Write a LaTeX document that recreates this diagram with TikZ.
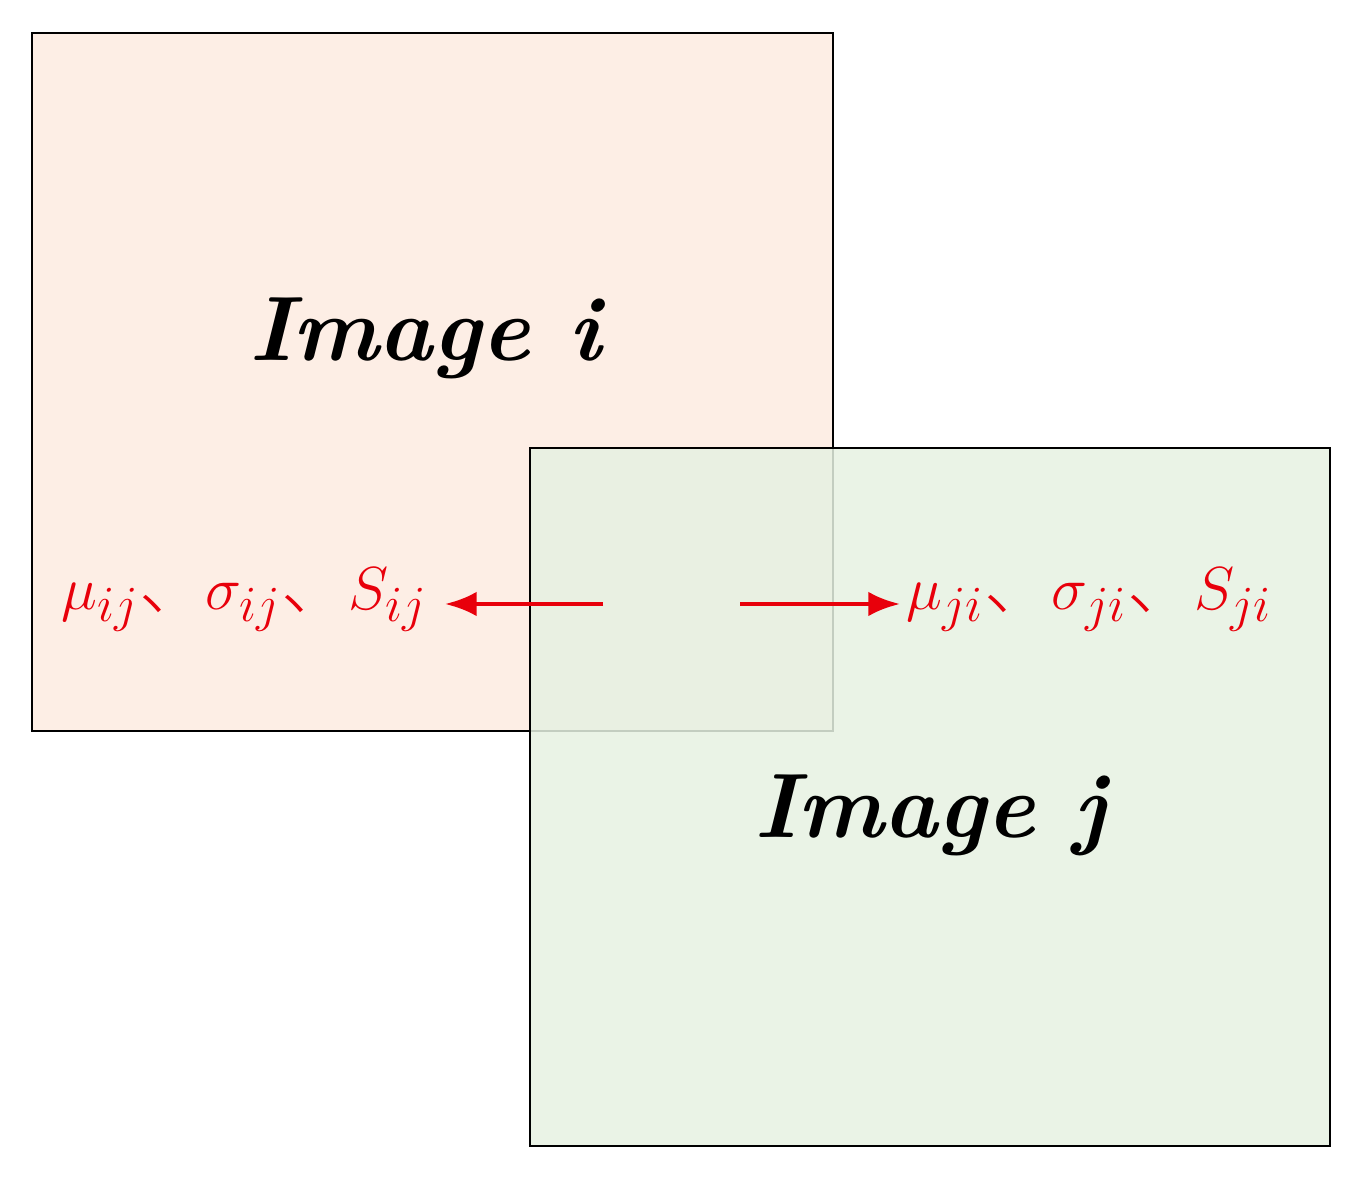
\documentclass[tikz,border=0pt]{standalone}
\usepackage{fontspec}
\newfontfamily\cjk{Noto Sans CJK SC Light}
\usetikzlibrary{arrows.meta}
\definecolor{pinkfill}{HTML}{FDEEE5}
\definecolor{greenfill}{HTML}{E6F1E2}
\definecolor{lblred}{HTML}{E8000B}
\tikzset{
 box/.style={draw=black, line width=0.75pt},
 title/.style={font=\fontsize{26}{30}\selectfont\bfseries\itshape},
 lbl/.style={text=lblred, font=\fontsize{19}{22}\selectfont, inner sep=0pt},
 arr/.style={draw=lblred, line width=1.3pt, -{Latex[length=9pt,width=7pt]}}
}
\begin{document}
\begin{tikzpicture}[x=0.01cm,y=-0.01cm]
\useasboundingbox (0,0) rectangle (1354,1180);
\fill[pinkfill] (32,33) rectangle (833,731);
\draw[box] (32,33) rectangle (833,731);
\fill[greenfill, opacity=0.85] (530,448) rectangle (1330,1146);
\draw[box] (530,448) rectangle (1330,1146);
\node[title] (ti) at (425,338) {Image i};
\node[title] (tj) at (930,815) {Image j};
\node[lbl, anchor=east] (li) at (428,600) {$\mu_{ij}${\cjk 、}$\sigma_{ij}${\cjk 、}$S_{ij}$};
\node[lbl, anchor=west] (lj) at (906,600) {$\mu_{ji}${\cjk 、}$\sigma_{ji}${\cjk 、}$S_{ji}$};
\coordinate (a1) at (603,604);
\coordinate (a2) at (740,604);
\draw[arr] (a1) -- (445,604);
\draw[arr] (a2) -- (900,604);
\end{tikzpicture}
\end{document}
